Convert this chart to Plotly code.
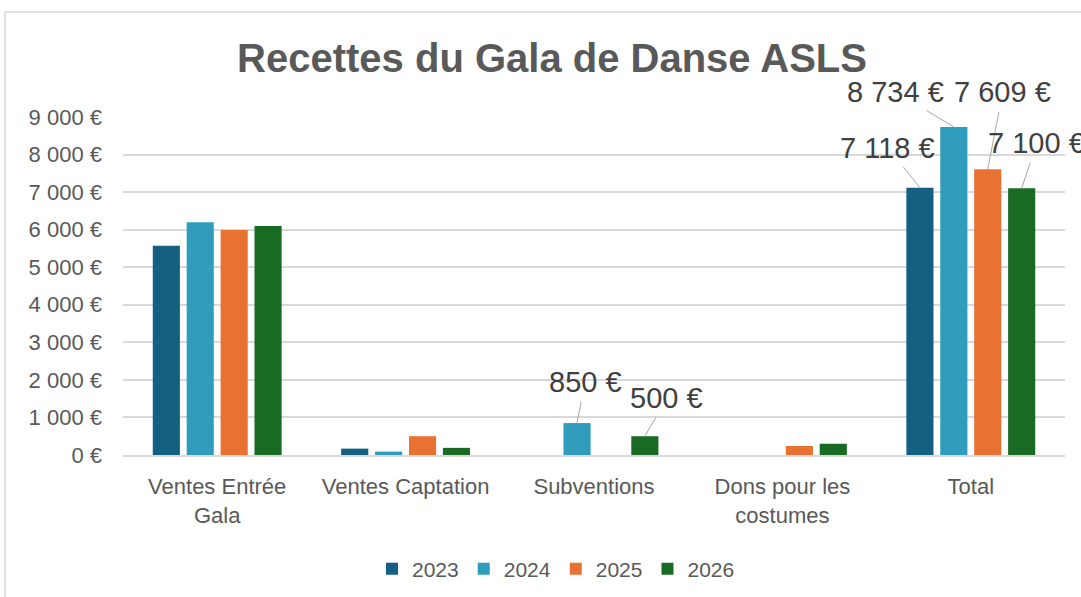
import plotly.graph_objects as go

categories = ["Ventes Entrée<br>Gala", "Ventes Captation", "Subventions", "Dons pour les<br>costumes", "Total"]
years = ["2023", "2024", "2025", "2026"]
values = {
    "2023": [5570, 170, 0, 0, 7118],
    "2024": [6200, 90, 850, 0, 8734],
    "2025": [5990, 500, 0, 240, 7609],
    "2026": [6100, 190, 500, 300, 7100],
}
colors = {"2023": "#156082", "2024": "#2E9CBA", "2025": "#E97132", "2026": "#196B24"}
y_ticks = [0, 1000, 2000, 3000, 4000, 5000, 6000, 7000, 8000, 9000]

# labelled bars: (year, category index, label offset px x, y)
labelled = [
    ("2024", 2, 8, -41),
    ("2026", 2, 22, -38),
    ("2023", 4, -32, -40),
    ("2024", 4, -58, -35),
    ("2025", 4, 15, -77),
    ("2026", 4, 15, -45),
]

FONT = "Liberation Sans"
bargap = 0.28
slot = (1 - bargap) / len(years)

def fmt(v):
    return f"{v:,}".replace(",", " ") + " €"

fig = go.Figure()
for yr in years:
    fig.add_trace(go.Bar(name=yr, x=list(range(len(categories))), y=values[yr],
                         marker=dict(color=colors[yr], line=dict(width=0))))

annotations = []
for yr, ci, ax, ay in labelled:
    j = years.index(yr)
    xc = ci + (j - (len(years) - 1) / 2) * slot
    annotations.append(dict(
        x=xc, y=values[yr][ci], xref="x", yref="y", text=fmt(values[yr][ci]),
        showarrow=True, arrowhead=0, arrowwidth=1, arrowcolor="#A6A6A6",
        ax=ax, ay=ay, standoff=0, startstandoff=2,
        font=dict(family=FONT, size=29, color="#404040")))

fig.update_layout(
    width=1081, height=597,
    margin=dict(l=123, r=16, t=117, b=142),
    paper_bgcolor="white", plot_bgcolor="white",
    separators=", ",
    barmode="group", bargap=bargap, bargroupgap=0.2,
    font=dict(family=FONT, color="#595959"),
    title=dict(text="<b>Recettes du Gala de Danse ASLS</b>", x=552/1081, xref="container",
               xanchor="center", y=1 - 58/597, yanchor="middle", yref="container",
               font=dict(family=FONT, size=40, color="#595959")),
    xaxis=dict(tickmode="array", tickvals=list(range(len(categories))), ticktext=categories,
               range=[-0.5, len(categories) - 0.5], showgrid=False, showline=True,
               linecolor="#D9D9D9", linewidth=1.5, ticks="", ticklabelstandoff=11,
               tickfont=dict(family=FONT, size=22, color="#595959"), zeroline=False),
    yaxis=dict(range=[0, 9000], tickmode="array", tickvals=y_ticks,
               ticktext=[fmt(v) for v in y_ticks],
               showgrid=True, gridcolor="#D9D9D9", gridwidth=1.5, zeroline=False,
               showline=False, ticks="", ticklabelstandoff=20,
               tickfont=dict(family=FONT, size=22, color="#595959")),
    legend=dict(orientation="h", x=556/1081, xref="container", xanchor="center",
                y=1 - 569/597, yref="container", yanchor="middle",
                font=dict(family=FONT, size=21, color="#595959")),
    annotations=annotations,
    shapes=[dict(type="rect", xref="paper", yref="paper",
                 x0=(5 - 123) / 942, x1=(1090 - 123) / 942,
                 y0=(455 - 605) / 338, y1=(455 - 12) / 338,
                 line=dict(color="#D9D9D9", width=1.5), fillcolor="rgba(0,0,0,0)", layer="below")],
)

fig.write_html("out.html", config={"displayModeBar": False},
               post_script="document.body.style.margin='0';document.body.style.overflow='hidden';")
